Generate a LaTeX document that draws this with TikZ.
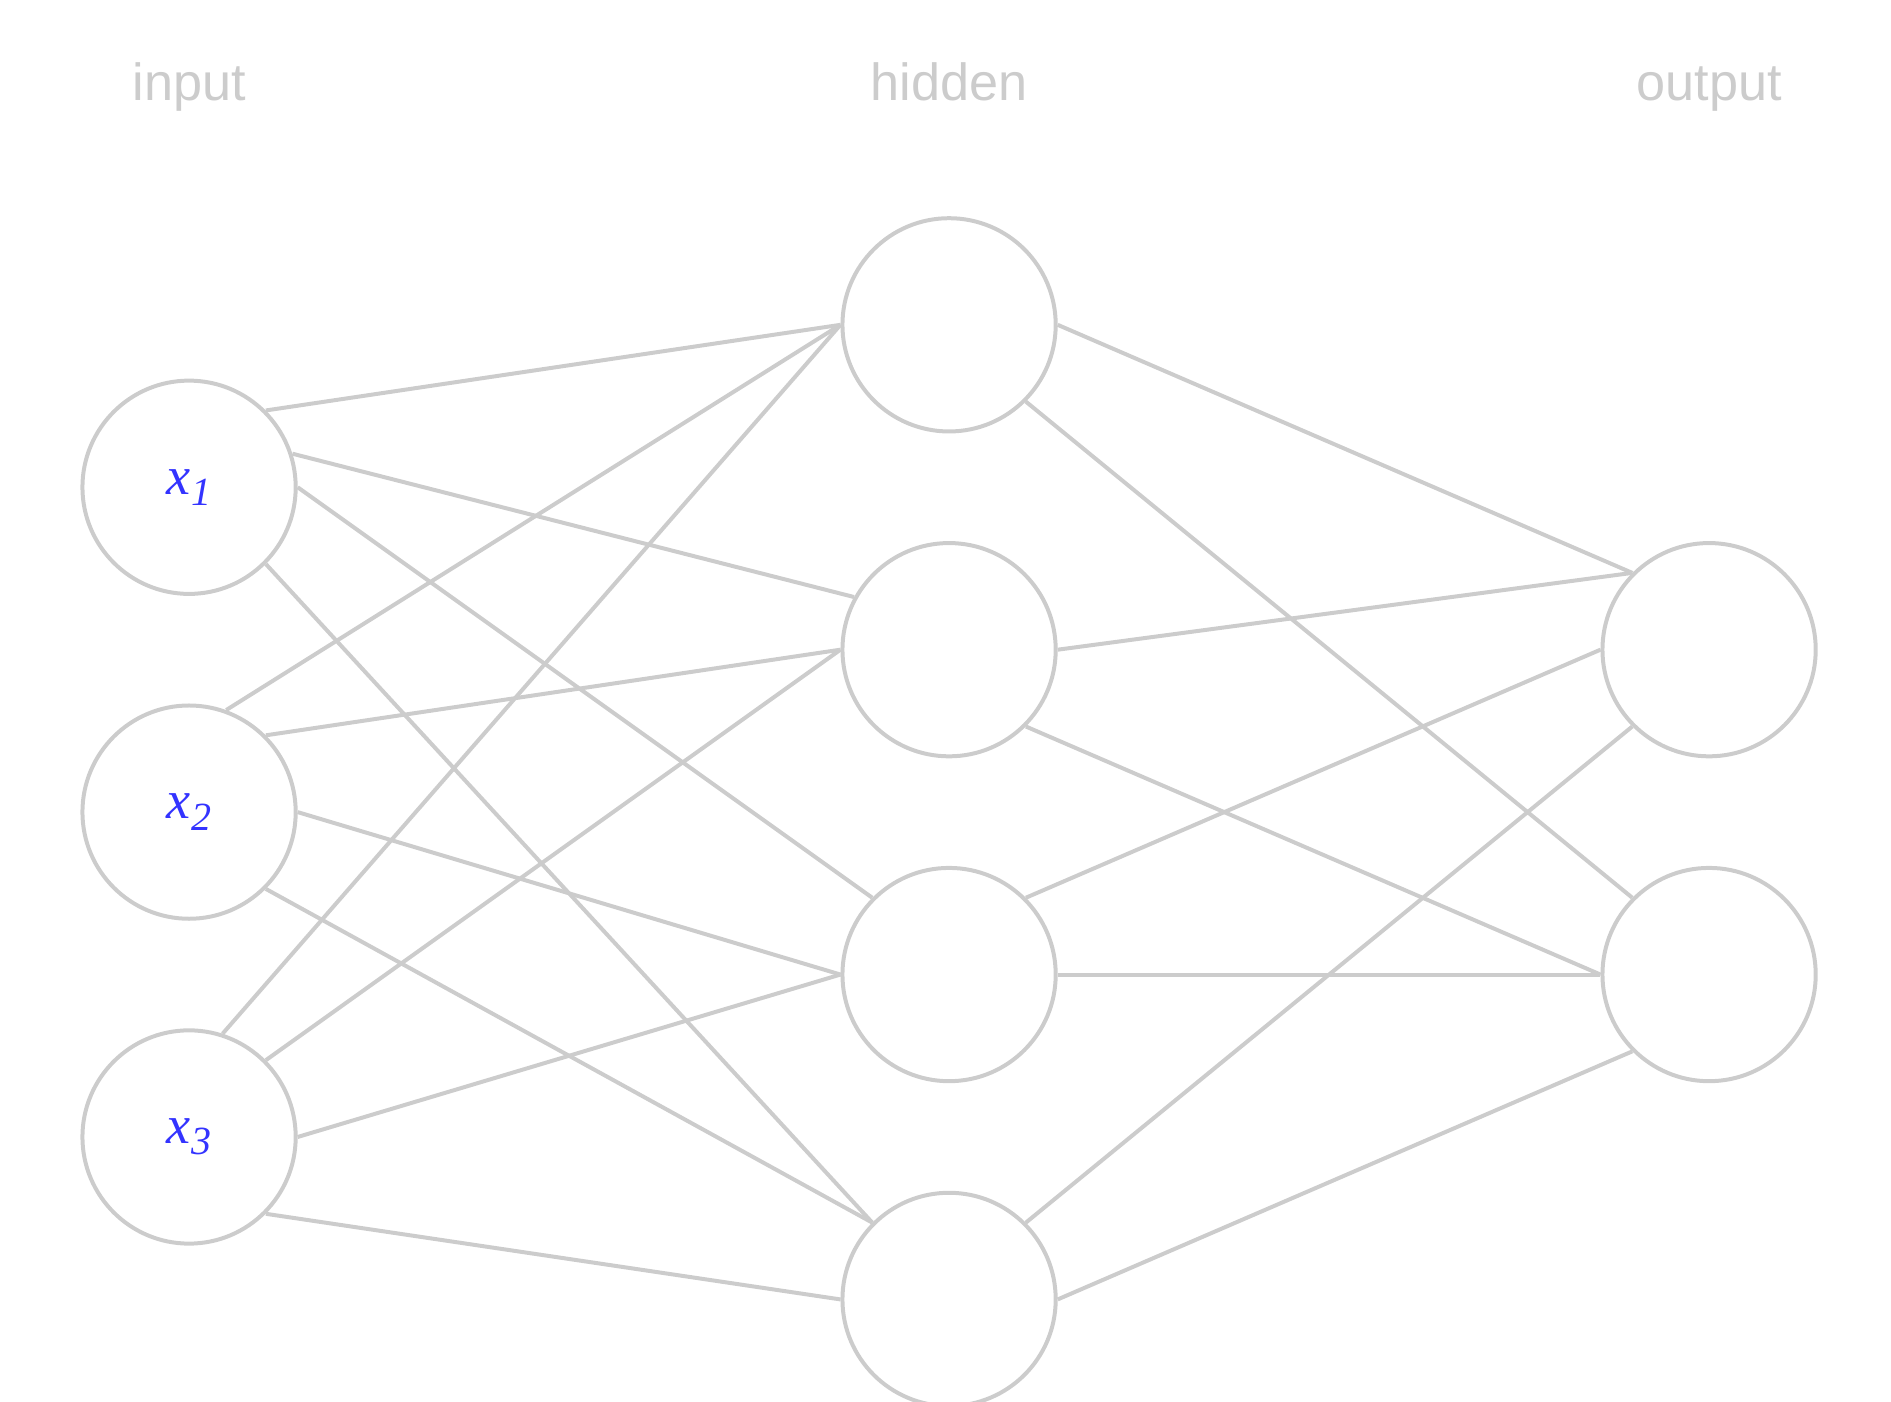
\documentclass[tikz,border=0pt]{standalone}
\usepackage{fontspec}
\usepackage{amsmath}
\usetikzlibrary{positioning}
\newfontfamily\layerfont{Liberation Sans}
\newfontfamily\varfont{Liberation Serif}
\definecolor{netgray}{RGB}{204,204,204}
\definecolor{varblue}{RGB}{51,51,255}
\newcommand{\invar}[1]{\varfont\itshape x\kern0.3pt\raisebox{-2pt}{\fontsize{7}{8}\selectfont #1}}
\tikzset{
    neuron/.style={draw=netgray, circle, line width=0.7pt, minimum size=1.313cm, inner sep=0pt, text=varblue, font=\fontsize{9.5}{11}\selectfont},
    layer/.style={text=netgray, font=\layerfont\fontsize{9.15}{11}\selectfont, anchor=base},
    wire/.style={draw=netgray, line width=0.7pt}
}
\begin{document}
\begin{tikzpicture}[on grid, node distance=2cm and 4.679cm]
\useasboundingbox (0,0) rectangle (11.642,-8.627);

    \node[neuron] (in1) at (1.164,-3) {\invar{1}};
    \node[neuron, below = of in1] (in2) {\invar{2}};
    \node[neuron, below = of in2] (in3) {\invar{3}};

    \node[neuron, above right = 1cm and 4.679cm of in1] (hid1) {};
    \node[neuron, below = of hid1] (hid2) {};
    \node[neuron, below = of hid2] (hid3) {};
    \node[neuron, below = of hid3] (hid4) {};

    \node[neuron, right = of hid2] (out1) {};
    \node[neuron, below = of out1] (out2) {};

    \node[layer] (in-label) at (in1 |- 0,-0.62) {input};
    \node[layer] (hid-label) at (hid1 |- 0,-0.62) {hidden};
    \node[layer] (out-label) at (out1 |- 0,-0.62) {output};

\draw[wire] (in1.45) -- (hid1.west);
\draw[wire] (in1.18) -- (hid2.151);
\draw[wire] (in1.east) -- (hid3.135);
\draw[wire] (in1.315) -- (hid4.135);

\draw[wire] (in2.70) -- (hid1.west);
\draw[wire] (in2.45) -- (hid2.west);
\draw[wire] (in2.east) -- (hid3.west);
\draw[wire] (in2.315) -- (hid4.135);

\draw[wire] (in3.72) -- (hid1.west);
\draw[wire] (in3.45) -- (hid2.west);
\draw[wire] (in3.east) -- (hid3.west);
\draw[wire] (in3.315) -- (hid4.west);

\draw[wire] (hid1.east) -- (out1.135);
\draw[wire] (hid1.315) -- (out2.135);
\draw[wire] (hid2.east) -- (out1.135);
\draw[wire] (hid2.315) -- (out2.west);
\draw[wire] (hid3.45) -- (out1.west);
\draw[wire] (hid3.east) -- (out2.west);
\draw[wire] (hid4.45) -- (out1.225);
\draw[wire] (hid4.east) -- (out2.225);

\end{tikzpicture}
\end{document}
